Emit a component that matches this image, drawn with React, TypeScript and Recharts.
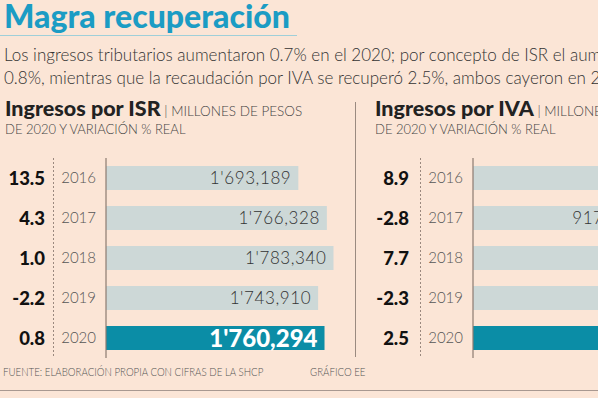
import { BarChart, Bar, XAxis, YAxis, Cell, LabelList } from "recharts";

// Datos
const years = ["2016", "2017", "2018", "2019", "2020"];
const isrValues = [1693189, 1766328, 1783340, 1743910, 1760294];
const isrVariation = ["13.5", "4.3", "1.0", "-2.2", "0.8"];
const ivaValues = [943412, 917306, 987920, 965205, 989337];
const ivaVariation = ["8.9", "-2.8", "7.7", "-2.3", "2.5"];

const FONT = "Lato, 'Open Sans', sans-serif";
const BG = "#fbe5d6";
const BAR = "#cdd8d7";
const BAR_HI = "#0b8da6";

// 1'693,189
const fmt = (v: number) => {
  const m = Math.floor(v / 1e6);
  const rest = v % 1e6;
  const th = Math.floor(rest / 1000);
  const u = rest % 1000;
  const tail = `${m ? String(th).padStart(3, "0") : th},${String(u).padStart(3, "0")}`;
  return m ? `${m}'${tail}` : tail;
};

const ValueLabel = (props: any) => {
  const { x, y, width, height, value, index } = props;
  const last = index === years.length - 1;
  return (
    <text
      x={x + width - 7}
      y={y + height / 2}
      dy="0.36em"
      textAnchor="end"
      fill={last ? "#ffffff" : "#333"}
      fontSize={last ? 24 : 17}
      fontWeight={last ? 900 : 300}
      fontFamily={FONT}
      letterSpacing={last ? 0 : 0.6}
    >
      {fmt(value)}
    </text>
  );
};

type PanelProps = {
  values: number[];
  variation: string[];
  domain: [number, number];
  plotWidth: number;
  varMargin: number;
  left: number;
};

const Panel = ({ values, variation, domain, plotWidth, varMargin, left }: PanelProps) => {
  const data = years.map((year, i) => ({ year, value: values[i] }));
  return (
    <div style={{ position: "absolute", left, top: 158, width: 106 + plotWidth, height: 200 }}>
      <BarChart
        width={106 + plotWidth}
        height={200}
        data={data}
        layout="vertical"
        margin={{ top: 0, right: 0, bottom: 0, left: 0 }}
      >
        <XAxis type="number" domain={domain} hide />
        {/* años junto a las barras */}
        <YAxis
          yAxisId="a"
          type="category"
          dataKey="year"
          width={53}
          tickLine={false}
          tickSize={0}
          tickMargin={10}
          axisLine={{ stroke: "#8c7a70", strokeWidth: 1.2 }}
          tick={{ fill: "#555", fontSize: 15, fontWeight: 300, fontFamily: FONT }}
        />
        {/* variación % real */}
        <YAxis
          yAxisId="b"
          type="category"
          dataKey="year"
          width={53}
          tickLine={false}
          tickSize={0}
          tickMargin={varMargin}
          axisLine={false}
          tickFormatter={(_v: string, i: number) => variation[i]}
          tick={{ fill: "#111", fontSize: 18.5, fontWeight: 900, fontFamily: FONT }}
        />
        <Bar dataKey="value" yAxisId="a" barSize={24} isAnimationActive={false}>
          {data.map((d, i) => (
            <Cell key={d.year} fill={i === data.length - 1 ? BAR_HI : BAR} />
          ))}
          <LabelList dataKey="value" content={ValueLabel} />
        </Bar>
      </BarChart>
      {/* separador punteado entre variación y año */}
      <div
        style={{
          position: "absolute",
          left: 53,
          top: 0,
          width: 1,
          height: 198,
          background: "repeating-linear-gradient(to bottom, #9a887e 0px, #9a887e 2px, transparent 2px, transparent 4px)",
          zIndex: 2,
        }}
      />
    </div>
  );
};

const Header = ({ title, left }: { title: string; left: number }) => (
  <div style={{ position: "absolute", left, top: 95, whiteSpace: "nowrap", color: "#222" }}>
    <div style={{ height: 26 }}>
      <span style={{ fontSize: 21.5, fontWeight: 900 }}>{title}</span>
      <span style={{ fontSize: 13.5, fontWeight: 300, color: "#444" }}> | MILLONES DE PESOS</span>
    </div>
    <div style={{ fontSize: 13, fontWeight: 300, color: "#444" }}>DE 2020 Y VARIACIÓN % REAL</div>
  </div>
);

const footStyle = {
  position: "absolute" as const,
  top: 364,
  fontSize: 12,
  fontWeight: 300,
  color: "#555",
  whiteSpace: "nowrap" as const,
  transform: "scaleX(0.81)",
  transformOrigin: "left center",
};

export default function App() {
  return (
    <div
      style={{
        position: "absolute",
        left: 0,
        top: 0,
        width: 598,
        height: 398,
        overflow: "hidden",
        background: BG,
        fontFamily: FONT,
      }}
    >
      <div
        style={{
          position: "absolute",
          left: 4,
          top: -4,
          fontSize: 32,
          fontWeight: 900,
          color: "#1b9cc4",
          whiteSpace: "nowrap",
        }}
      >
        Magra recuperación
      </div>
      <div style={{ position: "absolute", left: 0, top: 35, width: 297, height: 1, background: "#9fcfd9" }} />
      <div
        style={{
          position: "absolute",
          left: 4,
          top: 43,
          fontSize: 17,
          fontWeight: 300,
          lineHeight: "23px",
          color: "#333",
          whiteSpace: "nowrap",
        }}
      >
        <div>Los ingresos tributarios aumentaron 0.7% en el 2020; por concepto de ISR el aumento fue de</div>
        <div>0.8%, mientras que la recaudación por IVA se recuperó 2.5%, ambos cayeron en 2019.</div>
      </div>

      <Header title="Ingresos por ISR" left={5} />
      <Header title="Ingresos por IVA" left={375} />

      <div style={{ position: "absolute", left: 355, top: 102, width: 1.2, height: 255, background: "#9a8a80" }} />

      <Panel values={isrValues} variation={isrVariation} domain={[1200000, 1800000]} plotWidth={234} varMargin={8} left={0} />
      <Panel values={ivaValues} variation={ivaVariation} domain={[744000, 1044000]} plotWidth={300} varMargin={11} left={367} />

      <div style={{ ...footStyle, left: 3 }}>FUENTE: ELABORACIÓN PROPIA CON CIFRAS DE LA SHCP</div>
      <div style={{ ...footStyle, left: 310 }}>GRÁFICO EE</div>
      <div style={{ position: "absolute", left: 0, top: 390, width: 598, height: 1, background: "#a89890" }} />
    </div>
  );
}
